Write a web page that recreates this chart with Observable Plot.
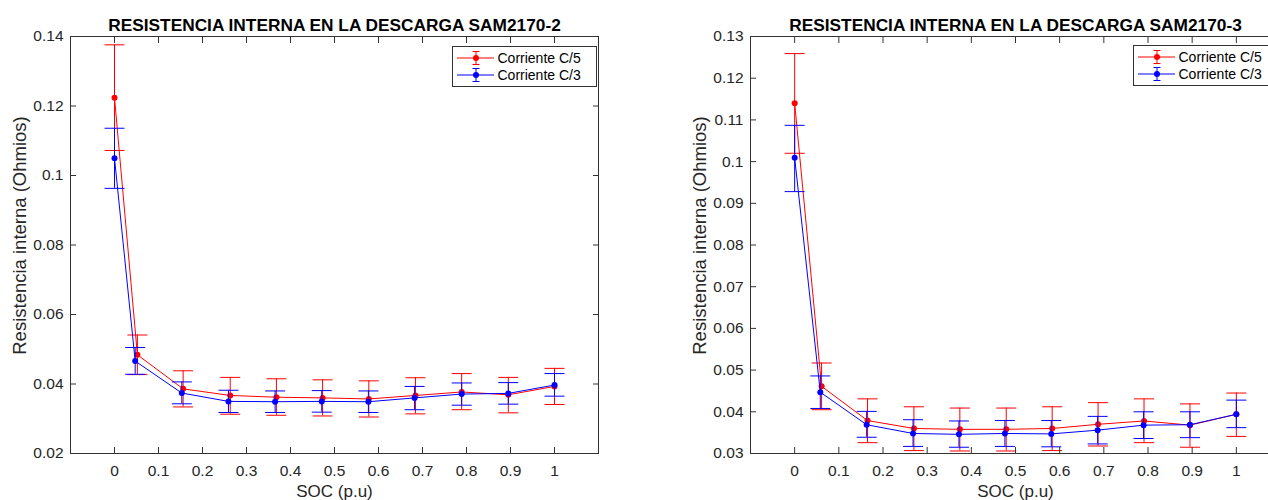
<!DOCTYPE html>
<html><head><meta charset="utf-8">
<script src="https://cdn.jsdelivr.net/npm/d3@7"></script>
<script src="https://cdn.jsdelivr.net/npm/@observablehq/plot@0.6"></script>
<style>
body{margin:0;background:#fff;overflow:hidden;}
#wrap{position:relative;width:1268px;height:500px;overflow:hidden;background:#fff;font-family:"Liberation Sans",Arial,sans-serif;}
#wrap > svg{position:absolute;top:0;}
.legend{position:absolute;}
</style></head><body><div id="wrap"></div>
<script>
const FONT = "Liberation Sans, Arial, sans-serif";
const series = ["Corriente C/5", "Corriente C/3"];
const colors = ["#ff0000", "#0000ff"];
const titles = ["RESISTENCIA INTERNA EN LA DESCARGA SAM2170-2", "RESISTENCIA INTERNA EN LA DESCARGA SAM2170-3"];
const xLabel = "SOC (p.u)";
const yLabel = "Resistencia interna (Ohmios)";
const xTicks = [0, 0.1, 0.2, 0.3, 0.4, 0.5, 0.6, 0.7, 0.8, 0.9, 1];
const yTicks2 = [0.02, 0.04, 0.06, 0.08, 0.1, 0.12, 0.14];
const yTicks3 = [0.03, 0.04, 0.05, 0.06, 0.07, 0.08, 0.09, 0.1, 0.11, 0.12, 0.13];

// SAM2170-2, C/5
const soc2_c5 = [0, 0.052, 0.156, 0.263, 0.368, 0.473, 0.578, 0.684, 0.789, 0.895, 1];
const r2_c5   = [0.1224, 0.0484, 0.0386, 0.0367, 0.0362, 0.0360, 0.0357, 0.0367, 0.0377, 0.0369, 0.0393];
const hi2_c5  = [0.1376, 0.0541, 0.0438, 0.0419, 0.0415, 0.0412, 0.0409, 0.0418, 0.0430, 0.0419, 0.0445];
const lo2_c5  = [0.1072, 0.0427, 0.0334, 0.0313, 0.0310, 0.0308, 0.0305, 0.0314, 0.0326, 0.0317, 0.0341];
// SAM2170-2, C/3
const soc2_c3 = [0, 0.047, 0.153, 0.259, 0.365, 0.471, 0.577, 0.682, 0.789, 0.895, 1];
const r2_c3   = [0.1050, 0.0466, 0.0374, 0.0350, 0.0349, 0.0350, 0.0349, 0.0360, 0.0371, 0.0373, 0.0397];
const hi2_c3  = [0.1136, 0.0505, 0.0406, 0.0382, 0.0380, 0.0381, 0.0380, 0.0393, 0.0403, 0.0404, 0.0430];
const lo2_c3  = [0.0963, 0.0428, 0.0343, 0.0318, 0.0318, 0.0319, 0.0318, 0.0326, 0.0339, 0.0342, 0.0365];
// SAM2170-3, C/5
const soc3_c5 = [0, 0.061, 0.165, 0.270, 0.374, 0.479, 0.583, 0.687, 0.791, 0.895, 1];
const r3_c5   = [0.1140, 0.0461, 0.0379, 0.0360, 0.0358, 0.0358, 0.0360, 0.0370, 0.0378, 0.0368, 0.0394];
const hi3_c5  = [0.1259, 0.0517, 0.0431, 0.0412, 0.0409, 0.0409, 0.0412, 0.0422, 0.0431, 0.0419, 0.0445];
const lo3_c5  = [0.1020, 0.0405, 0.0326, 0.0307, 0.0306, 0.0306, 0.0307, 0.0318, 0.0326, 0.0315, 0.0341];
// SAM2170-3, C/3
const soc3_c3 = [0, 0.058, 0.163, 0.268, 0.372, 0.476, 0.581, 0.686, 0.790, 0.895, 1];
const r3_c3   = [0.1009, 0.0447, 0.0369, 0.0348, 0.0346, 0.0348, 0.0347, 0.0356, 0.0368, 0.0369, 0.0394];
const hi3_c3  = [0.1087, 0.0486, 0.0401, 0.0381, 0.0378, 0.0379, 0.0379, 0.0389, 0.0400, 0.0400, 0.0428];
const lo3_c3  = [0.0928, 0.0408, 0.0339, 0.0317, 0.0315, 0.0317, 0.0316, 0.0323, 0.0336, 0.0338, 0.0362];

const zip = (x, r, lo, hi) => x.map((v, i) => ({x: v, r: r[i], lo: lo[i], hi: hi[i]}));

// horizontal cap symbol (half-width = r)
const hbar = {draw(ctx, size) { const w = Math.sqrt(size / Math.PI); ctx.moveTo(-w, 0); ctx.lineTo(w, 0); }};

function chart({title, yTicks, yDomain, width, marginRight, seriesRows}) {
  const marks = [];
  seriesRows.forEach((rows, k) => {
    const c = colors[k];
    marks.push(
      Plot.ruleX(rows, {x: "x", y1: "lo", y2: "hi", stroke: c, strokeWidth: 1}),
      Plot.dot(rows, {x: "x", y: "lo", r: 10, symbol: hbar, fill: "none", stroke: c, strokeWidth: 1}),
      Plot.dot(rows, {x: "x", y: "hi", r: 10, symbol: hbar, fill: "none", stroke: c, strokeWidth: 1}),
      Plot.line(rows, {x: "x", y: "r", stroke: c, strokeWidth: 1}),
      Plot.dot(rows, {x: "x", y: "r", r: 3, fill: c, stroke: null})
    );
  });
  return Plot.plot({
    width, height: 500, marginLeft: 70, marginRight, marginTop: 36, marginBottom: 47,
    style: {fontFamily: FONT, fontSize: "15.5px", color: "#262626", background: "transparent", overflow: "visible"},
    x: {domain: [-0.1, 1.1]},
    y: {domain: yDomain},
    marks: [
      ...marks,
      Plot.frame({stroke: "#333"}),
      Plot.axisX(xTicks, {anchor: "bottom", tickSize: -6, tickPadding: 17.5, tickFormat: d => String(d), label: null, stroke: "#333"}),
      Plot.axisX(xTicks, {anchor: "top", tickSize: -6, tickFormat: () => "", label: null, stroke: "#333"}),
      Plot.axisY(yTicks, {anchor: "left", tickSize: -6, tickPadding: 13, tickFormat: d => String(d), label: null, stroke: "#333"}),
      Plot.axisY(yTicks, {anchor: "right", tickSize: -6, tickFormat: () => "", label: null, stroke: "#333"}),
      Plot.text([title], {text: d => d, frameAnchor: "top", textAnchor: "middle", lineAnchor: "middle", dy: -11.5, fontWeight: "bold", fontSize: 17.3, fill: "black"}),
      Plot.text([xLabel], {text: d => d, frameAnchor: "bottom", textAnchor: "middle", lineAnchor: "middle", dy: 38.3, fontSize: 17, fill: "#262626"}),
      Plot.text([yLabel], {text: d => d, frameAnchor: "left", textAnchor: "middle", lineAnchor: "middle", dx: -50, dy: -9.5, rotate: -90, fontSize: 18.5, fill: "#262626"})
    ]
  });
}

function legend(container, left, top) {
  const w = 144, h = 40;
  const svg = d3.select(container).append("svg").attr("class", "legend")
    .style("left", left + "px").style("top", top + "px")
    .attr("width", w + 1).attr("height", h + 1);
  svg.append("rect").attr("x", 0.5).attr("y", 0.5).attr("width", w).attr("height", h)
    .attr("fill", "white").attr("stroke", "#333");
  series.forEach((name, i) => {
    const c = colors[i];
    const g = svg.append("g").attr("transform", `translate(0,${12 + i * 17})`);
    g.append("line").attr("x1", 5).attr("x2", 42).attr("y1", 0).attr("y2", 0).attr("stroke", c);
    g.append("line").attr("x1", 24).attr("x2", 24).attr("y1", -6.5).attr("y2", 6.5).attr("stroke", c);
    g.append("line").attr("x1", 20.5).attr("x2", 27.5).attr("y1", -6.5).attr("y2", -6.5).attr("stroke", c);
    g.append("line").attr("x1", 20.5).attr("x2", 27.5).attr("y1", 6.5).attr("y2", 6.5).attr("stroke", c);
    g.append("circle").attr("cx", 24).attr("cy", 0).attr("r", 3).attr("fill", c);
    g.append("text").attr("x", 45.5).attr("y", 0).attr("dy", "0.35em")
      .attr("font-family", FONT).attr("font-size", 14).attr("fill", "#000").text(name);
  });
}

const wrap = document.getElementById("wrap");
const c1 = chart({title: titles[0], yTicks: yTicks2, yDomain: [0.02, 0.14], width: 610, marginRight: 12,
  seriesRows: [zip(soc2_c5, r2_c5, lo2_c5, hi2_c5), zip(soc2_c3, r2_c3, lo2_c3, hi2_c3)]});
c1.style.left = "0px";
wrap.appendChild(c1);
const c2 = chart({title: titles[1], yTicks: yTicks3, yDomain: [0.03, 0.13], width: 610, marginRight: 10,
  seriesRows: [zip(soc3_c5, r3_c5, lo3_c5, hi3_c5), zip(soc3_c3, r3_c3, lo3_c3, hi3_c3)]});
c2.style.left = "680px";
wrap.appendChild(c2);
legend(wrap, 452, 45.5);
legend(wrap, 1133, 45);
</script></body></html>
